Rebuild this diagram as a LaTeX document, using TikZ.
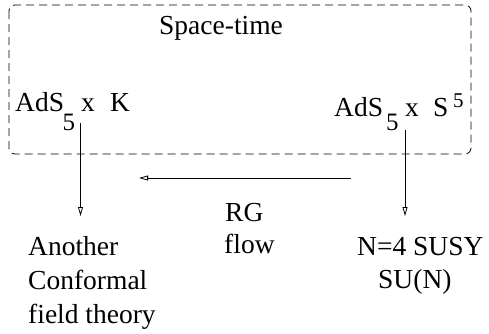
\documentclass[tikz,border=0pt]{standalone}
\usepackage{fontspec}
\setmainfont{Liberation Serif}
\usetikzlibrary{arrows.meta}
\begin{document}
\begin{tikzpicture}[x=1pt,y=-1pt,
  lbl/.style={inner sep=0pt,anchor=base west,font=\fontsize{27.5}{33}\selectfont},
  idx/.style={inner sep=0pt,anchor=base west,font=\fontsize{25}{28}\selectfont},
  sup/.style={inner sep=0pt,anchor=base west,font=\fontsize{21}{24}\selectfont},
  conn/.style={line width=0.8pt,-{Triangle[open,length=9pt,width=5pt]}},
  frame/.style={line width=0.8pt,dash pattern=on 8pt off 5pt,rounded corners=6pt}]
\useasboundingbox (0,0) rectangle (489,333);
% space-time frame
\draw[frame] (9,5) rectangle (471,154);
\node[lbl] (st) at (159,34) {Space-time};
% left product
\node[lbl] (adsl) at (15,111.5) {AdS};
\node[idx] (fivel) at (62.5,130) {5};
\node[lbl] (xl) at (81,111.5) {x};
\node[lbl] (kl) at (110,111.5) {K};
% right product
\node[lbl] (adsr) at (334,116) {AdS};
\node[idx] (fiver) at (386,130) {5};
\node[lbl] (xr) at (405,116) {x};
\node[lbl] (sr) at (433,116) {S};
\node[sup] (supr) at (453,107) {5};
% lower texts
\node[lbl] (an1) at (28,255.5) {Another};
\node[lbl] (an2) at (28,289.5) {Conformal};
\node[lbl] (an3) at (28,323.5) {field theory};
\node[lbl] (rg1) at (225,221) {RG};
\node[lbl] (rg2) at (224,253) {flow};
\node[lbl] (ns1) at (357,255.5) {N=4 SUSY};
\node[lbl] (ns2) at (378,288.5) {SU(N)};
% connector ends
\coordinate (ltop) at (80.5,123);
\coordinate (lbot) at (80.5,216);
\coordinate (rtop) at (405,130);
\coordinate (rbot) at (405,216);
\coordinate (hstart) at (351,178);
\coordinate (hend) at (139,178);
\draw[conn] (ltop) -- (lbot);
\draw[conn] (rtop) -- (rbot);
\draw[conn] (hstart) -- (hend);
\end{tikzpicture}
\end{document}
